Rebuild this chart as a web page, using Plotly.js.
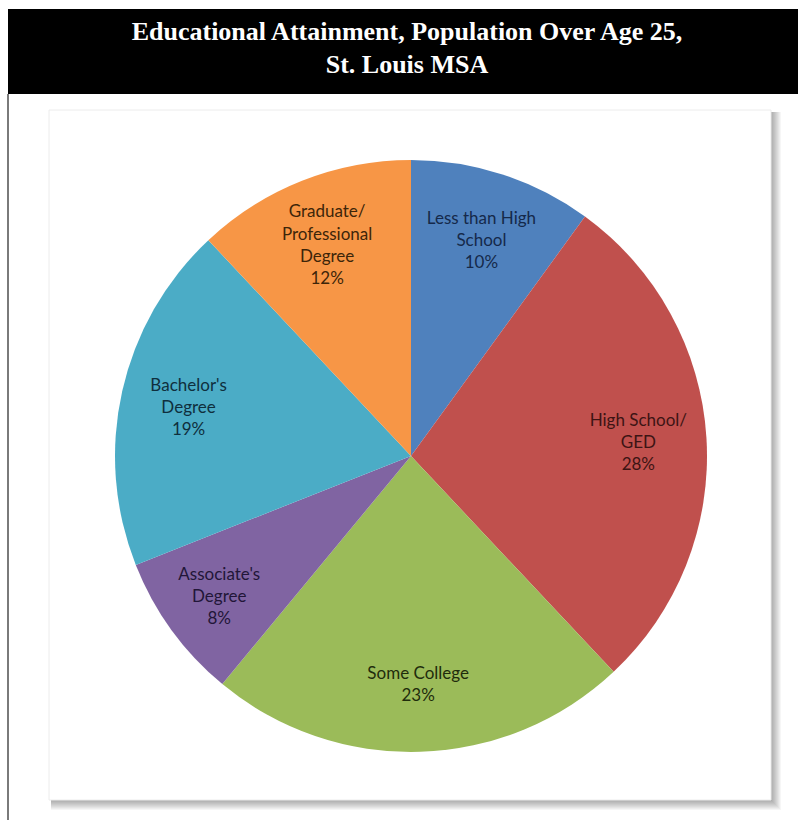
<!DOCTYPE html>
<html>
<head>
<meta charset="utf-8">
<script src="https://cdn.plot.ly/plotly-3.0.1.min.js"></script>
<style>
  html, body { margin: 0; padding: 0; background: #ffffff; }
  #chart { width: 798px; height: 820px; }
</style>
</head>
<body>
<div id="chart"></div>
<script>
const categories = ['Less than High School', 'High School/GED', 'Some College', "Associate's Degree", "Bachelor's Degree", 'Graduate/Professional Degree'];
const labelText = ['Less than High<br>School', 'High School/<br>GED', 'Some College', "Associate's<br>Degree", "Bachelor's<br>Degree", 'Graduate/<br>Professional<br>Degree'];
const shares = [10, 28, 23, 8, 19, 12];
const sliceColors = ['#4F81BD', '#C0504D', '#9BBB59', '#8064A2', '#4BACC6', '#F79646'];
const labelColors = ['#15294a', '#3d1414', '#1f2c0c', '#221638', '#0f2f3d', '#3d2509'];

const W = 798, H = 820;
const px = v => v / W;
const py = v => 1 - v / H;

const shapes = [
  {type:'rect', xref:'paper', yref:'paper', x0:px(8), x1:1, y0:py(94), y1:py(9), fillcolor:'#000000', line:{width:0}, layer:'below'},
  {type:'line', xref:'paper', yref:'paper', x0:px(8), x1:px(8), y0:py(94), y1:0, line:{color:'#7a7a7a', width:2}, layer:'below'}
];
for (let i = 10; i >= 1; i--) {
  shapes.push({type:'rect', xref:'paper', yref:'paper',
    x0:px(49 + 2), x1:px(771 + i), y0:py(800 + i), y1:py(110 + 2),
    fillcolor:'rgba(0,0,0,0.035)', line:{width:0}, layer:'below'});
}
shapes.push({type:'rect', xref:'paper', yref:'paper', x0:px(49), x1:px(771), y0:py(800), y1:py(110),
  fillcolor:'#ffffff', line:{color:'#ececec', width:1}, layer:'below'});

const cx = 411, cy = 456, r = 296;
const pieDomain = { x: [px(cx - r), px(cx + r)], y: [py(cy + r), py(cy - r)] };

const data = [
  {
    type: 'pie',
    labels: categories,
    values: shares,
    textinfo: 'none',
    sort: false,
    direction: 'clockwise',
    rotation: 0,
    marker: { colors: sliceColors, line: { width: 0 } },
    domain: pieDomain,
    hoverinfo: 'label+percent',
    showlegend: false
  },
  {
    type: 'pie',
    labels: categories,
    values: shares,
    text: labelText,
    texttemplate: '%{text}<br>%{percent}',
    textinfo: 'text',
    textposition: 'inside',
    insidetextorientation: 'horizontal',
    hole: 0.54,
    sort: false,
    direction: 'clockwise',
    rotation: 0,
    marker: { colors: categories.map(() => 'rgba(0,0,0,0)'), line: { width: 0 } },
    textfont: { family: 'Lato, "Open Sans", sans-serif', size: 17, color: labelColors },
    domain: pieDomain,
    hoverinfo: 'skip',
    showlegend: false
  }
];

const layout = {
  width: W, height: H,
  margin: { l: 0, r: 0, t: 0, b: 0 },
  paper_bgcolor: '#ffffff',
  showlegend: false,
  shapes: shapes,
  title: {
    text: 'Educational Attainment, Population Over Age 25,<br>St. Louis MSA',
    font: { family: '"Liberation Serif", "Times New Roman", serif', size: 26, color: '#ffffff', weight: 'bold' },
    x: 0.51, xanchor: 'center', xref: 'paper',
    y: 1 - 39.5 / H, yanchor: 'middle', yref: 'container'
  }
};

Plotly.newPlot('chart', data, layout, { displayModeBar: false, staticPlot: true });
</script>
</body>
</html>
